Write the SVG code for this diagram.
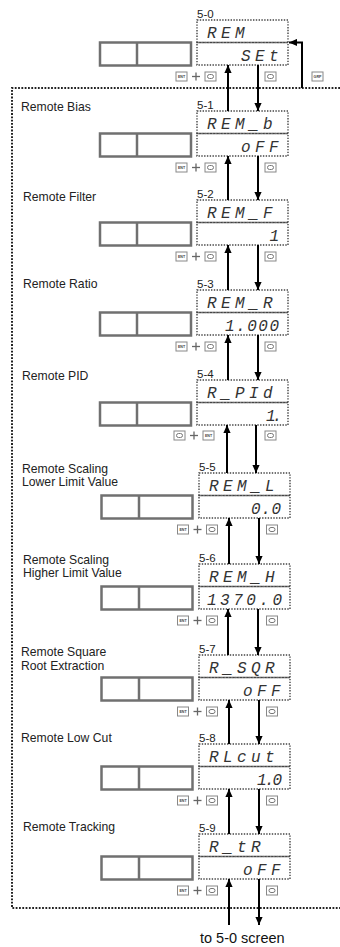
<svg xmlns="http://www.w3.org/2000/svg" width="340" height="947" viewBox="0 0 340 947">
<defs>
<style>
.lbl{font-family:"Liberation Sans",Arial,sans-serif;font-size:12.2px;fill:#222}
.num{font-family:"Liberation Sans",Arial,sans-serif;font-size:11.5px;fill:#222}
.bot{font-family:"Liberation Sans",Arial,sans-serif;font-size:14.5px;fill:#111}
.seg{font-family:"Liberation Mono","DejaVu Sans Mono",monospace;font-style:italic;font-size:16px;letter-spacing:4.4px;fill:#333}
.segd{font-family:"Liberation Mono","DejaVu Sans Mono",monospace;font-style:italic;font-size:16px;letter-spacing:0px;fill:#333}
.disp{fill:none;stroke:#444;stroke-width:1.4;stroke-dasharray:1.4 1.4}
.btn{fill:#fff;stroke:#707070;stroke-width:2.5}
.btnl{stroke:#707070;stroke-width:2.5}
.ico{fill:#fff;stroke:#888;stroke-width:1}
.loop{fill:none;stroke:#777;stroke-width:1}
.it{font-family:"Liberation Sans",Arial,sans-serif;font-size:3.6px;font-weight:bold;fill:#444;text-anchor:middle}
.plus{stroke:#666;stroke-width:1.3}
.frame{fill:none;stroke:#222;stroke-width:2;stroke-dasharray:1.8 1.5}
.arr{stroke:#000;stroke-width:2;fill:none;marker-end:url(#ah)}
</style>
<marker id="ah" viewBox="0 0 10 10" refX="10" refY="5" markerWidth="8" markerHeight="8" markerUnits="userSpaceOnUse" orient="auto">
<path d="M0,0.5 L10,5 L0,9.5 z" fill="#000"/>
</marker>
<g id="entIcon"><rect class="ico" x="0" y="0" width="11" height="9"/><text class="it" x="5.5" y="6">ENT</text></g>
<g id="loopIcon"><rect class="ico" x="0" y="0" width="11" height="9"/><rect class="loop" x="2.5" y="2.5" width="6" height="4" rx="2"/></g>
<g id="plusIcon"><line class="plus" x1="-4" y1="0" x2="4" y2="0"/><line class="plus" x1="0" y1="-4" x2="0" y2="4"/></g>
</defs>
<rect x="0" y="0" width="340" height="947" fill="#fff"/>

<g id="frame">
<path class="frame" d="M340,88 H12 V908 H340"/>
</g>

<g id="labels">
<text class="lbl" x="21" y="111">Remote Bias</text>
<text class="lbl" x="23" y="201">Remote Filter</text>
<text class="lbl" x="23" y="288">Remote Ratio</text>
<text class="lbl" x="22" y="380">Remote PID</text>
<text class="lbl" x="22" y="473">Remote Scaling</text>
<text class="lbl" x="22" y="486">Lower Limit Value</text>
<text class="lbl" x="23" y="564">Remote Scaling</text>
<text class="lbl" x="23" y="577">Higher Limit Value</text>
<text class="lbl" x="21" y="656">Remote Square</text>
<text class="lbl" x="21" y="670">Root Extraction</text>
<text class="lbl" x="21" y="742">Remote Low Cut</text>
<text class="lbl" x="23" y="831">Remote Tracking</text>
<text class="bot" x="200" y="943">to 5-0 screen</text>
</g>

<g id="screen-5-0">
<text class="num" x="197" y="18">5-0</text>
<rect class="disp" x="197" y="20" width="91" height="22.5"/>
<rect class="disp" x="197" y="42.5" width="91" height="22.5"/>
<rect class="btn" x="100" y="42.5" width="91" height="23"/>
<line class="btnl" x1="137" y1="42.5" x2="137" y2="65.5"/>
<text class="seg" x="207" y="37.5">REM</text>
<text class="seg" x="241" y="60.5">SEt</text>
<use href="#entIcon" x="176" y="72"/><use href="#plusIcon" x="196" y="76.5"/><use href="#loopIcon" x="205" y="72"/>
<use href="#loopIcon" x="265" y="72"/>
<rect class="ico" x="312" y="72" width="11" height="9"/><text class="it" x="317.5" y="78">GRP</text>
</g>

<g id="screen-5-1">
<text class="num" x="197" y="109">5-1</text>
<rect class="disp" x="197" y="111" width="91" height="22.5"/>
<rect class="disp" x="197" y="133.5" width="91" height="22.5"/>
<rect class="btn" x="100" y="133.5" width="91" height="23"/>
<line class="btnl" x1="137" y1="133.5" x2="137" y2="156.5"/>
<text class="seg" x="207" y="128.5">REM_b</text>
<text class="seg" x="241" y="151.5">oFF</text>
<use href="#entIcon" x="176" y="163"/><use href="#plusIcon" x="196" y="167.5"/><use href="#loopIcon" x="205" y="163"/>
<use href="#loopIcon" x="265" y="163"/>
</g>

<g id="screen-5-2">
<text class="num" x="197" y="198">5-2</text>
<rect class="disp" x="197" y="200" width="91" height="22.5"/>
<rect class="disp" x="197" y="222.5" width="91" height="22.5"/>
<rect class="btn" x="100" y="222.5" width="91" height="23"/>
<line class="btnl" x1="137" y1="222.5" x2="137" y2="245.5"/>
<text class="seg" x="207" y="217.5">REM_F</text>
<text class="seg" x="269.4" y="240.5">1</text>
<use href="#entIcon" x="176" y="252"/><use href="#plusIcon" x="196" y="256.5"/><use href="#loopIcon" x="205" y="252"/>
<use href="#loopIcon" x="265" y="252"/>
</g>

<g id="screen-5-3">
<text class="num" x="197" y="288">5-3</text>
<rect class="disp" x="197" y="290" width="91" height="22.5"/>
<rect class="disp" x="197" y="312.5" width="91" height="22.5"/>
<rect class="btn" x="100" y="312.5" width="91" height="23"/>
<line class="btnl" x1="137" y1="312.5" x2="137" y2="335.5"/>
<text class="seg" x="207" y="307.5">REM_R</text>
<text class="segd" x="225" y="330.5" textLength="54" lengthAdjust="spacing">1.000</text>
<use href="#entIcon" x="176" y="342"/><use href="#plusIcon" x="196" y="346.5"/><use href="#loopIcon" x="205" y="342"/>
<use href="#loopIcon" x="265" y="342"/>
</g>

<g id="screen-5-4">
<text class="num" x="197" y="378">5-4</text>
<rect class="disp" x="197" y="380" width="91" height="22.5"/>
<rect class="disp" x="197" y="402.5" width="91" height="22.5"/>
<rect class="btn" x="100" y="402.5" width="91" height="23"/>
<line class="btnl" x1="137" y1="402.5" x2="137" y2="425.5"/>
<text class="seg" x="207" y="397.5">R_PId</text>
<text class="segd" x="266" y="420.5" textLength="16" lengthAdjust="spacing">1.</text>
<use href="#loopIcon" x="174" y="431"/><use href="#plusIcon" x="194" y="435.5"/><use href="#entIcon" x="203" y="431"/>
<use href="#loopIcon" x="265" y="431"/>
</g>

<g id="screen-5-5">
<text class="num" x="199" y="471">5-5</text>
<rect class="disp" x="199" y="473" width="91" height="22.5"/>
<rect class="disp" x="199" y="495.5" width="91" height="22.5"/>
<rect class="btn" x="101.5" y="495.5" width="91" height="23"/>
<line class="btnl" x1="139" y1="495.5" x2="139" y2="518.5"/>
<text class="seg" x="209" y="490.5">REM_L</text>
<text class="segd" x="251" y="513.5" textLength="30" lengthAdjust="spacing">0.0</text>
<use href="#entIcon" x="177.5" y="525"/><use href="#plusIcon" x="197.5" y="529.5"/><use href="#loopIcon" x="206.5" y="525"/>
<use href="#loopIcon" x="266.5" y="525"/>
</g>

<g id="screen-5-6">
<text class="num" x="199" y="562">5-6</text>
<rect class="disp" x="199" y="564" width="91" height="22.5"/>
<rect class="disp" x="199" y="586.5" width="91" height="22.5"/>
<rect class="btn" x="101.5" y="586.5" width="91" height="23"/>
<line class="btnl" x1="139" y1="586.5" x2="139" y2="609.5"/>
<text class="seg" x="209" y="581.5">REM_H</text>
<text class="segd" x="207" y="604.5" textLength="75" lengthAdjust="spacing">1370.0</text>
<use href="#entIcon" x="177.5" y="616"/><use href="#plusIcon" x="197.5" y="620.5"/><use href="#loopIcon" x="206.5" y="616"/>
<use href="#loopIcon" x="266.5" y="616"/>
</g>

<g id="screen-5-7">
<text class="num" x="199" y="653">5-7</text>
<rect class="disp" x="199" y="655" width="91" height="22.5"/>
<rect class="disp" x="199" y="677.5" width="91" height="22.5"/>
<rect class="btn" x="101.5" y="677.5" width="91" height="23"/>
<line class="btnl" x1="139" y1="677.5" x2="139" y2="700.5"/>
<text class="seg" x="209" y="672.5">R_SQR</text>
<text class="seg" x="243" y="695.5">oFF</text>
<use href="#entIcon" x="177.5" y="707"/><use href="#plusIcon" x="197.5" y="711.5"/><use href="#loopIcon" x="206.5" y="707"/>
<use href="#loopIcon" x="266.5" y="707"/>
</g>

<g id="screen-5-8">
<text class="num" x="199" y="742">5-8</text>
<rect class="disp" x="199" y="744" width="91" height="22.5"/>
<rect class="disp" x="199" y="766.5" width="91" height="22.5"/>
<rect class="btn" x="101.5" y="766.5" width="91" height="23"/>
<line class="btnl" x1="139" y1="766.5" x2="139" y2="789.5"/>
<text class="seg" x="209" y="761.5">RLcut</text>
<text class="segd" x="257" y="784.5" textLength="25" lengthAdjust="spacing">1.0</text>
<use href="#entIcon" x="177.5" y="796"/><use href="#plusIcon" x="197.5" y="800.5"/><use href="#loopIcon" x="206.5" y="796"/>
<use href="#loopIcon" x="266.5" y="796"/>
</g>

<g id="screen-5-9">
<text class="num" x="199" y="832">5-9</text>
<rect class="disp" x="199" y="834" width="91" height="22.5"/>
<rect class="disp" x="199" y="856.5" width="91" height="22.5"/>
<rect class="btn" x="101.5" y="856.5" width="91" height="23"/>
<line class="btnl" x1="139" y1="856.5" x2="139" y2="879.5"/>
<text class="seg" x="209" y="851.5">R_tR</text>
<text class="seg" x="243" y="874.5">oFF</text>
<use href="#entIcon" x="177.5" y="886"/><use href="#plusIcon" x="197.5" y="890.5"/><use href="#loopIcon" x="206.5" y="886"/>
<use href="#loopIcon" x="266.5" y="886"/>
</g>

<g id="connectors">
<path class="arr" d="M302,88 V42.5 H289"/>
<line class="arr" x1="228" y1="111" x2="228" y2="65"/>
<line class="arr" x1="258" y1="65" x2="258" y2="111"/>
<line class="arr" x1="228" y1="200" x2="228" y2="156"/>
<line class="arr" x1="258" y1="156" x2="258" y2="200"/>
<line class="arr" x1="228" y1="290" x2="228" y2="245"/>
<line class="arr" x1="258" y1="245" x2="258" y2="290"/>
<line class="arr" x1="228" y1="380" x2="228" y2="335"/>
<line class="arr" x1="258" y1="335" x2="258" y2="380"/>
<line class="arr" x1="227" y1="473" x2="227" y2="425"/>
<line class="arr" x1="256" y1="425" x2="256" y2="473"/>
<line class="arr" x1="229" y1="564" x2="229" y2="518"/>
<line class="arr" x1="259" y1="518" x2="259" y2="564"/>
<line class="arr" x1="228" y1="655" x2="228" y2="609"/>
<line class="arr" x1="258" y1="609" x2="258" y2="655"/>
<line class="arr" x1="229" y1="744" x2="229" y2="700"/>
<line class="arr" x1="259" y1="700" x2="259" y2="744"/>
<line class="arr" x1="229" y1="834" x2="229" y2="789"/>
<line class="arr" x1="259" y1="789" x2="259" y2="834"/>
<line class="arr" x1="229" y1="925" x2="229" y2="879"/>
<line class="arr" x1="259" y1="879" x2="259" y2="925"/>
</g>
</svg>
